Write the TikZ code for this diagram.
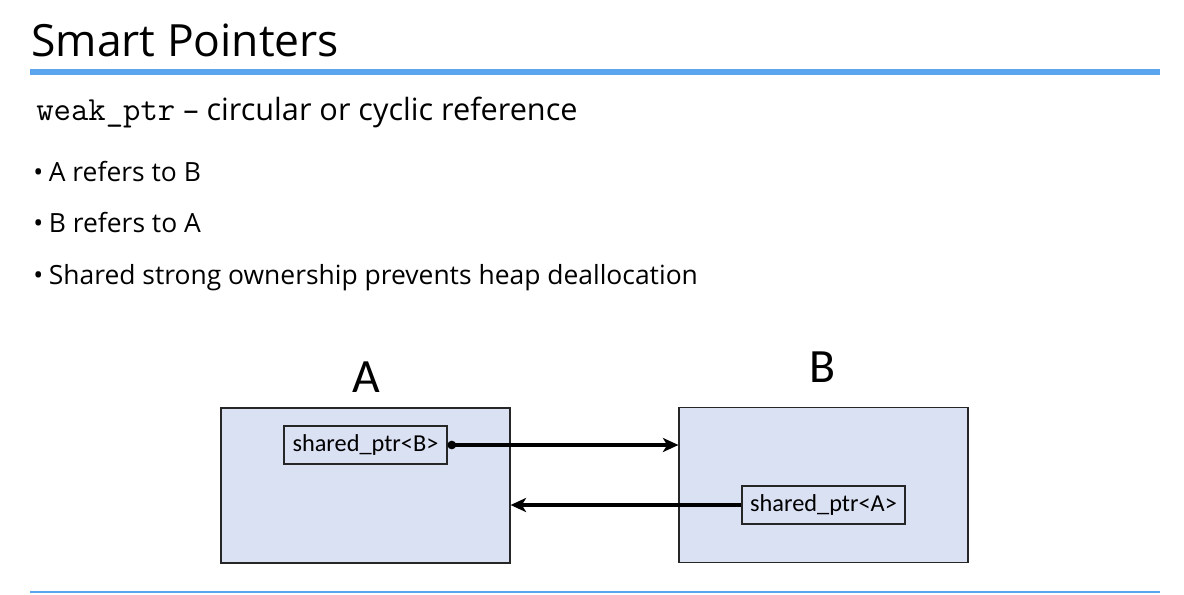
\documentclass[tikz,border=0pt]{standalone}
\usepackage{fontspec}
\setmainfont{Open Sans}
\setmonofont{Latin Modern Mono}
\newfontfamily\calfont{Carlito}
\usetikzlibrary{arrows.meta}
\definecolor{rule}{HTML}{5AA5EE}
\definecolor{objfill}{HTML}{DAE1F3}
\tikzset{
    objbox/.style={draw=black!85,line width=0.8pt,fill=objfill,minimum width=7.225cm,minimum height=3.875cm,inner sep=0pt},
    ptrbox/.style={draw=black!85,line width=0.8pt,fill=objfill,minimum width=4.075cm,minimum height=0.95cm,inner sep=0pt,font=\calfont\fontsize{17.3}{19}\selectfont},
    txt/.style={anchor=base west,inner sep=0pt},
    bullet/.style={txt,font=\fontsize{18.8}{22}\selectfont},
    link/.style={line width=2.3pt}
}
\begin{document}
\begin{tikzpicture}[x=0.025cm,y=-0.025cm]
        \useasboundingbox[fill=white] (0,0) rectangle (1184,594);

        \node [txt,font=\fontsize{31.6}{36}\selectfont](title)at(31,56){Smart Pointers};
        \draw [rule,line width=4pt] (30,72) -- (1160,72);
        \draw [rule,line width=1.4pt] (30,592) -- (1160,592);

        \node [txt,font=\fontsize{21.8}{24}\selectfont](sub)at(36,120){{\ttfamily\fontsize{24}{24}\selectfont weak\_ptr} -- circular or cyclic reference};
        \node [bullet](b1)at(33,181){\textbullet\hspace{4pt}A refers to B};
        \node [bullet](b2)at(33,232){\textbullet\hspace{4pt}B refers to A};
        \node [bullet](b3)at(33,284){\textbullet\hspace{4pt}Shared strong ownership prevents heap deallocation};

        \node [objbox](boxa)at(365.5,485.5){};
        \node [objbox](boxb)at(823.5,485){};
        \node [font=\calfont\fontsize{34}{36}\selectfont](labela)at(366,377){A};
        \node [font=\calfont\fontsize{34}{36}\selectfont](labelb)at(822,367){B};

        \node [ptrbox](ptrb)at(365.5,445){shared\_ptr<B>};
        \node [ptrbox](ptra)at(823.5,505){shared\_ptr<A>};

        \draw [link,{Circle[length=6pt]}-{Stealth[length=11pt,width=10pt,inset=3pt]}] (ptrb.east) -- (ptrb.east -| boxb.west);
        \draw [link,-{Stealth[length=11pt,width=10pt,inset=3pt]}] (ptra.west) -- (ptra.west -| boxa.east);
    \end{tikzpicture}
\end{document}
